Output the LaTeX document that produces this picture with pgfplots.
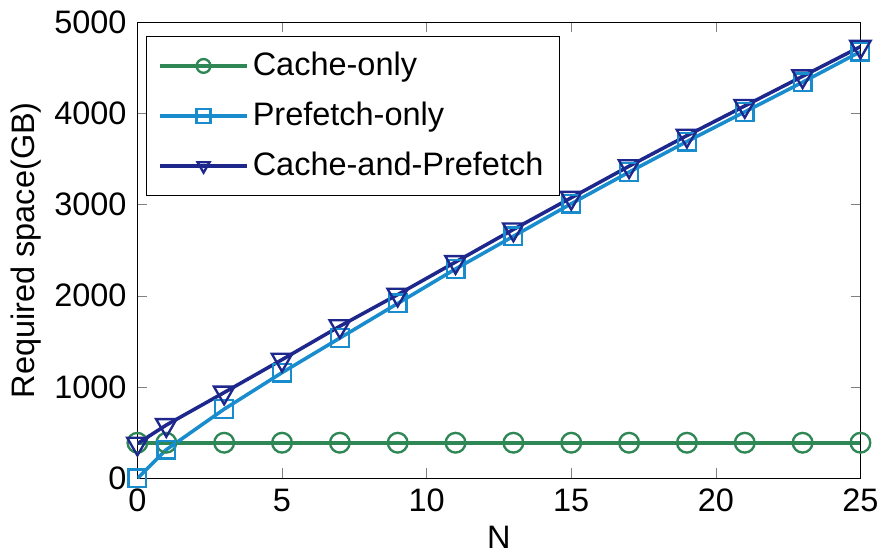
\documentclass[border=0pt]{standalone}
\usepackage{pgfplots}
\pgfplotsset{compat=1.18}
\usepackage{fontspec}
\setmainfont{Liberation Sans}
\definecolor{cgreen}{RGB}{46,135,84}
\definecolor{clblue}{RGB}{25,140,205}
\definecolor{cdblue}{RGB}{30,40,140}
\begin{document}
\fontsize{16}{19}\selectfont
\begin{tikzpicture}
\begin{axis}[
  scale only axis,
  width=366bp, height=231bp,
  xmin=0, xmax=25, ymin=0, ymax=5000,
  xtick={0,5,...,25},
  ytick={0,1000,...,5000},
  scaled y ticks=false,
  tick align=inside,
  major tick length=5pt,
  /pgf/number format/assume math mode=true,
  /pgf/number format/set thousands separator={},
  ticklabel style={font=\fontsize{16.5}{19}\selectfont},
  label style={font=\fontsize{16.5}{19}\selectfont},
  xlabel={N},
  ylabel={Required space(GB)},
  xlabel style={yshift=4pt},
  ylabel style={yshift=-4pt},
  legend style={at={(0.012,0.97)}, anchor=north west, draw=black,
    font=\fontsize{16.5}{19}\selectfont, row sep=7pt, inner sep=6pt},
  legend cell align=left,
  legend image code/.code={
    \draw[mark repeat=2,mark phase=2,#1,line width=2.2pt]
      plot coordinates {(0cm,0cm) (0.77cm,0cm) (1.54cm,0cm)};},
  legend image post style={mark size=3.5pt},
]
\addplot[color=cgreen, line width=1.8pt, mark=o, mark size=5pt, mark options={line width=1.2pt}] coordinates {
  (0,390) (1,390) (3,390) (5,390) (7,390) (9,390) (11,390) (13,390)
  (15,390) (17,390) (19,390) (21,390) (23,390) (25,390)
};
\addlegendentry{Cache-only}
\addplot[color=clblue, line width=1.8pt, mark=square, mark size=4.5pt, mark options={line width=1.2pt}] coordinates {
  (0,0) (1,314) (3,758) (5,1158) (7,1537) (9,1916) (11,2294) (13,2652)
  (15,3009) (17,3355) (19,3690) (21,4015) (23,4340) (25,4675)
};
\addlegendentry{Prefetch-only}
\addplot[color=cdblue, line width=1.8pt, mark=triangle, mark size=6pt, mark options={rotate=180, line width=1.2pt}] coordinates {
  (0,380) (1,584) (3,940) (5,1300) (7,1667) (9,2013) (11,2370) (13,2727)
  (15,3074) (17,3420) (19,3755) (21,4080) (23,4405) (25,4730)
};
\addlegendentry{Cache-and-Prefetch}
\end{axis}
\end{tikzpicture}
\end{document}
